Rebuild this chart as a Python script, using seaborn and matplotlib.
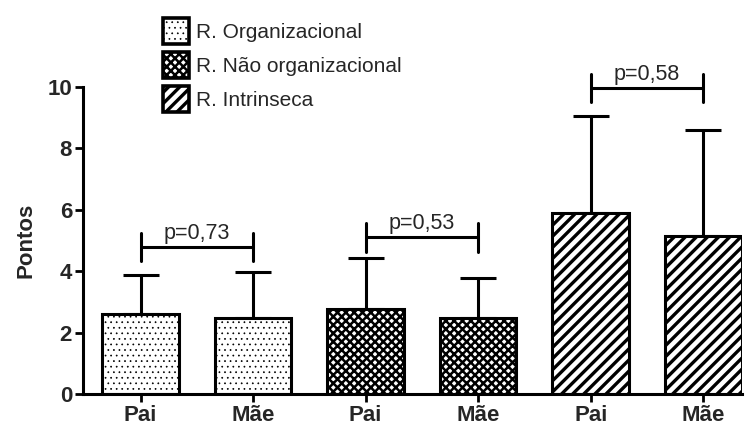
import matplotlib
matplotlib.use("Agg")
import matplotlib.pyplot as plt
import seaborn as sns
import pandas as pd
import numpy as np
from matplotlib.patches import Patch

sns.set_style("ticks")
plt.rcParams['font.family'] = ['Liberation Sans', 'DejaVu Sans']
plt.rcParams['hatch.linewidth'] = 1.8

groups = ["R. Organizacional", "R. Organizacional",
          "R. Não organizacional", "R. Não organizacional",
          "R. Intrinseca", "R. Intrinseca"]
parents = ["Pai", "Mãe", "Pai", "Mãe", "Pai", "Mãe"]
means = [2.60, 2.47, 2.77, 2.47, 5.90, 5.15]
sds = [1.27, 1.50, 1.66, 1.31, 3.16, 3.45]
legend_labels = ["R. Organizacional", "R. Não organizacional", "R. Intrinseca"]
hatches = ["...", "xxxx", "///"]
hatch_lws = [0.5, 1.8, 2.4]
p_labels = ["p=0,73", "p=0,53", "p=0,58"]
p_heights = [4.79, 5.10, 9.97]

df = pd.DataFrame({"key": [f"{g}|{p}" for g, p in zip(groups, parents)],
                   "grupo": groups, "pais": parents, "media": means, "dp": sds})

fig = plt.figure(figsize=(7.49, 4.25), dpi=100)
ax = fig.add_axes([0.111, 0.073, 0.879, 0.722])

sns.barplot(data=df, x="key", y="media", order=list(df["key"]), color="white",
            edgecolor="black", linewidth=2.2, width=0.68, errorbar=None, ax=ax)

for i, bar in enumerate(ax.patches):
    hi = legend_labels.index(groups[i])
    bar.set_hatch(hatches[hi])
    bar.set_facecolor("white")
    bar.set_edgecolor("black")
    if hasattr(bar, "set_hatch_linewidth"):
        bar.set_hatch_linewidth(hatch_lws[hi])

xs = np.arange(len(means))
ax.errorbar(xs, means, yerr=[np.zeros(len(sds)), sds], fmt="none",
            ecolor="black", elinewidth=2.2, capsize=13, capthick=2.2, zorder=0)

for k in range(3):
    x0, x1 = 2 * k, 2 * k + 1
    h = p_heights[k]
    ax.plot([x0, x1], [h, h], color="black", lw=2.2, clip_on=False)
    for xx in (x0, x1):
        ax.plot([xx, xx], [h - 0.46, h + 0.46], color="black", lw=2.2, clip_on=False)
    ax.text((x0 + x1) / 2, h + 0.1, p_labels[k], ha="center", va="bottom",
            fontsize=15.5, clip_on=False)

ax.set_ylim(0, 10)
ax.set_xlim(-0.51, 5.34)
ax.set_yticks([0, 2, 4, 6, 8, 10])
ax.set_xticks(xs)
ax.set_xticklabels(parents)
ax.set_xlabel("")
ax.set_ylabel("Pontos", fontsize=16, fontweight="bold", labelpad=8)
for lab in ax.get_xticklabels() + ax.get_yticklabels():
    lab.set_fontweight("bold")
    lab.set_fontsize(16)
ax.tick_params(axis="both", width=2, length=6, color="black", pad=2)
for s in ["left", "bottom"]:
    ax.spines[s].set_linewidth(2.2)
    ax.spines[s].set_color("black")
sns.despine(ax=ax)

handles = [Patch(facecolor="white", edgecolor="black", hatch=h, linewidth=2.6)
           for h in hatches]
leg = fig.legend(handles, legend_labels, loc="upper left", bbox_to_anchor=(0.207, 0.978),
                 frameon=False, fontsize=15, handlelength=1.25, handleheight=1.55,
                 handletextpad=0.3, labelspacing=0.38, borderaxespad=0)
for h, lw in zip(leg.legend_handles, hatch_lws):
    if hasattr(h, "set_hatch_linewidth"):
        h.set_hatch_linewidth(lw)

fig.savefig("out.png", dpi=100)
